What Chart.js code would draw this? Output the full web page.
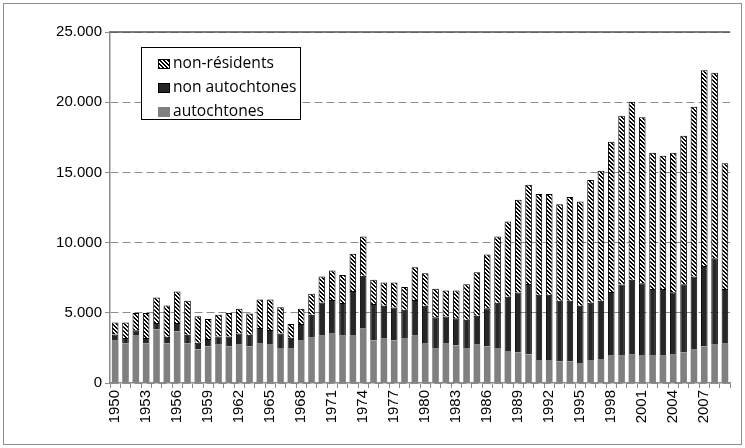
<!DOCTYPE html>
<html>
<head>
<meta charset="utf-8">
<script src="https://cdn.jsdelivr.net/npm/chart.js@4.4.1/dist/chart.umd.min.js"></script>
<style>
  html, body { margin: 0; padding: 0; background: #fff; }
  #wrap { position: relative; width: 745px; height: 448px; }
  #frame { position: absolute; left: 3px; top: 3px; width: 737px; height: 440px; border: 1px solid #8c8c8c; pointer-events: none; }
  #legend { position: absolute; left: 141px; top: 47px; width: 160px; height: 73px; border: 1px solid #000; background: #fff;
            font-family: "Open Sans", sans-serif; font-size: 15.6px; color: #000; box-sizing: border-box; padding-top: 2px; }
  #legend .row { height: 24px; line-height: 24px; white-space: nowrap; padding-left: 16px; }
  #legend .sw { display: inline-block; width: 12px; height: 10px; margin-right: 3px; vertical-align: -1px; box-sizing: border-box; }
</style>
</head>
<body>
<div id="wrap">
  <canvas id="chart" width="745" height="448"></canvas>
  <div id="legend"></div>
  <div id="frame"></div>
</div>
<script>
// années 1950-2009
const years = ['1950','1951','1952','1953','1954','1955','1956','1957','1958','1959',
  '1960','1961','1962','1963','1964','1965','1966','1967','1968','1969',
  '1970','1971','1972','1973','1974','1975','1976','1977','1978','1979',
  '1980','1981','1982','1983','1984','1985','1986','1987','1988','1989',
  '1990','1991','1992','1993','1994','1995','1996','1997','1998','1999',
  '2000','2001','2002','2003','2004','2005','2006','2007','2008','2009'];

const autochtones = [3010,2820,3370,2820,3810,2820,3670,2820,2400,2600,
  2720,2600,2720,2600,2800,2720,2490,2490,3060,3270,
  3360,3510,3360,3360,3910,3030,3150,3030,3150,3360,
  2800,2490,2800,2670,2490,2720,2600,2490,2280,2180,
  2040,1640,1640,1540,1540,1420,1640,1660,1940,1940,
  2060,1940,1940,1940,2060,2180,2370,2600,2720,2800];

const nonAutochtones = [440,380,380,380,460,470,600,610,460,540,
  590,710,800,840,1110,1050,1030,740,1140,1590,
  2370,2410,2330,3200,3720,2590,2350,2350,2060,2560,
  2700,2200,1940,1950,2010,2070,2730,3220,3860,4270,
  5010,4640,4640,4310,4310,4090,4070,4190,4540,5080,
  5290,5170,4750,4750,4410,4860,5210,5740,6170,3900];

const nonResidents = [860,1110,1230,1780,1820,2230,2250,2420,1900,1410,
  1550,1670,1760,1510,2040,2180,1880,980,1090,1500,
  1850,2090,2010,2640,2800,1730,1660,1780,1620,2320,
  2320,2020,1850,1970,2540,3100,3820,4720,5360,6610,
  7070,7180,7180,6880,7400,7410,8750,9270,10700,12010,
  12680,11810,9710,9500,9930,10570,12090,13940,13200,8950];

const yTicks = [0, 5000, 10000, 15000, 20000, 25000];

// motif hachuré pour les non-résidents
function makeHatch() {
  const c = document.createElement('canvas');
  c.width = 4; c.height = 4;
  const g = c.getContext('2d');
  g.fillStyle = '#fff';
  g.fillRect(0, 0, 4, 4);
  g.fillStyle = '#000';
  for (let i = 0; i < 4; i++) {
    g.fillRect(i, i, 1, 1);
    g.fillRect((i + 1) % 4, i, 1, 1);
  }
  return g.createPattern(c, 'repeat');
}

const fmt = v => String(v).replace(/\B(?=(\d{3})+(?!\d))/g, '.');
const gridGrey = '#8c8c8c';

// ligne pleine en haut de la zone de tracé
const topLine = {
  id: 'topLine',
  afterDraw(chart) {
    const { ctx, chartArea } = chart;
    ctx.save();
    ctx.strokeStyle = '#555';
    ctx.lineWidth = 1.5;
    ctx.beginPath();
    ctx.moveTo(chartArea.left, chartArea.top);
    ctx.lineTo(chartArea.right, chartArea.top);
    ctx.stroke();
    ctx.restore();
  }
};

const chart = new Chart(document.getElementById('chart'), {
  type: 'bar',
  data: {
    labels: years,
    datasets: [
      { label: 'autochtones', data: autochtones, backgroundColor: '#808080', borderWidth: 0 },
      { label: 'non autochtones', data: nonAutochtones, backgroundColor: '#262626', borderColor: '#000', borderWidth: 1 },
      { label: 'non-résidents', data: nonResidents, backgroundColor: makeHatch(), borderColor: '#000', borderWidth: 1 }
    ]
  },
  options: {
    responsive: false,
    animation: false,
    devicePixelRatio: 1,
    layout: { padding: { left: 0, right: 8, top: 32, bottom: 0 } },
    datasets: { bar: { barPercentage: 0.64, categoryPercentage: 1 } },
    plugins: { legend: { display: false }, tooltip: { enabled: false } },
    scales: {
      x: {
        stacked: true,
        grid: { offset: true, drawOnChartArea: false, drawTicks: true, tickLength: 5, color: gridGrey },
        border: { display: true, color: gridGrey, width: 1.5 },
        ticks: {
          autoSkip: false, maxRotation: 90, minRotation: 90, padding: 2,
          color: '#000', font: { family: 'Liberation Sans', size: 15 },
          callback: (v, i) => (i % 3 === 0 ? years[i] : '')
        },
        afterFit: s => { s.height = 65; }
      },
      y: {
        stacked: true,
        min: 0, max: 25000,
        afterBuildTicks: s => { s.ticks = yTicks.map(v => ({ value: v })); },
        grid: { color: gridGrey, lineWidth: 1, tickLength: 5 },
        border: {
          display: true, color: gridGrey, width: 1.5,
          dash: ctx => (ctx.tick ? [8, 4] : [])
        },
        ticks: {
          padding: 3, color: '#000', font: { family: 'Liberation Sans', size: 15 },
          callback: v => fmt(v)
        },
        afterFit: s => { s.width = 110; }
      }
    }
  },
  plugins: [topLine]
});

// légende HTML, ordre inverse de l'empilement
const swatchCss = {
  'non-résidents': 'background: repeating-linear-gradient(45deg, #000 0 1.4px, #fff 1.4px 2.8px); border: 1px solid #000;',
  'non autochtones': 'background: #262626; border: 1px solid #000;',
  'autochtones': 'background: #808080;'
};
const legend = document.getElementById('legend');
chart.data.datasets.slice().reverse().forEach(ds => {
  const row = document.createElement('div');
  row.className = 'row';
  row.innerHTML = '<span class="sw" style="' + swatchCss[ds.label] + '"></span>' + ds.label;
  legend.appendChild(row);
});
</script>
</body>
</html>
